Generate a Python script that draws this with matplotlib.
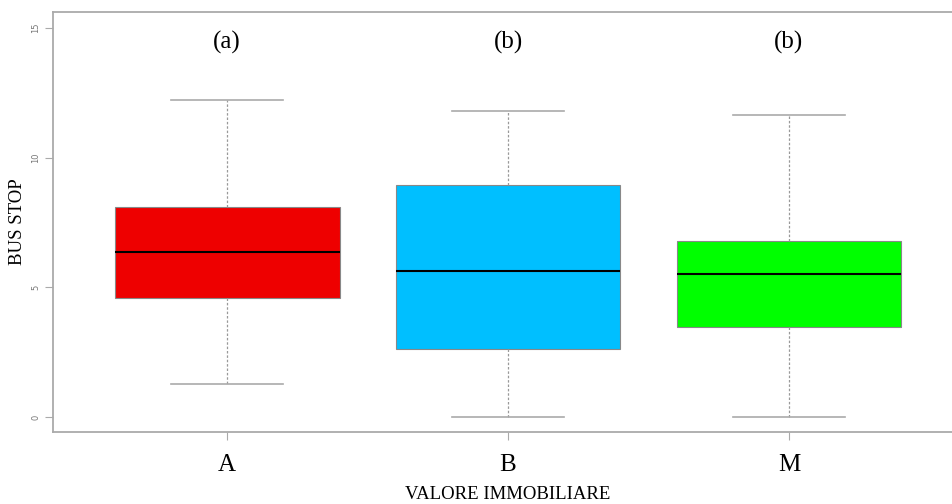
import matplotlib
matplotlib.use("Agg")
import matplotlib.pyplot as plt

categories = ["A", "B", "M"]
whisker_low = [1.29, 0.0, 0.02]
q1 = [4.60, 2.64, 3.46]
median = [6.37, 5.64, 5.53]
q3 = [8.11, 8.95, 6.80]
whisker_high = [12.23, 11.81, 11.65]
colors = ["#EE0000", "#00BFFF", "#00FF00"]
group_letters = ["(a)", "(b)", "(b)"]
letter_y = 14.46
yticks = [0, 5, 10, 15]

serif = ["Liberation Serif", "DejaVu Serif"]

fig = plt.figure(figsize=(9.52, 5.04), dpi=100)
ax = fig.add_axes([0.0557, 0.1429, 0.956, 0.833])

stats = []
for i, c in enumerate(categories):
    stats.append(dict(label=c, whislo=whisker_low[i], q1=q1[i], med=median[i],
                      q3=q3[i], whishi=whisker_high[i], fliers=[]))
positions = list(range(1, len(categories) + 1))
bp = ax.bxp(stats, positions=positions, widths=0.8, capwidths=0.4,
            patch_artist=True, showfliers=False,
            boxprops=dict(edgecolor="#888888", linewidth=0.8),
            whiskerprops=dict(color="#999999", linewidth=0.9, linestyle=(0, (2, 1.5))),
            capprops=dict(color="#aaaaaa", linewidth=1.2),
            medianprops=dict(color="black", linewidth=1.5))
for patch, col in zip(bp["boxes"], colors):
    patch.set_facecolor(col)

for p, t in zip(positions, group_letters):
    ax.text(p, letter_y, t, ha="center", va="center", fontsize=18, family=serif)

ax.set_xlim(0.38, 3.62)
ax.set_ylim(-0.57, 15.61)
ax.set_xticks(positions)
ax.set_xticklabels(categories, fontsize=18, family=serif)
ax.set_yticks(yticks)
ax.set_yticklabels([str(v) for v in yticks], fontsize=6, rotation=90,
                   va="center", color="#777777")
ax.tick_params(axis="y", length=6, color="#aaaaaa", pad=3)
ax.tick_params(axis="x", length=6, color="#aaaaaa", pad=10)
for s in ax.spines.values():
    s.set_color("#aaaaaa")
    s.set_linewidth(1.3)

ax.set_xlabel("VALORE IMMOBILIARE", fontsize=13.5, family=serif)
ax.xaxis.set_label_coords(0.5, -0.129)
ax.set_ylabel("BUS STOP", fontsize=13.5, family=serif)
ax.yaxis.set_label_coords(-0.03, 0.5)

fig.savefig("out.png", dpi=100)
